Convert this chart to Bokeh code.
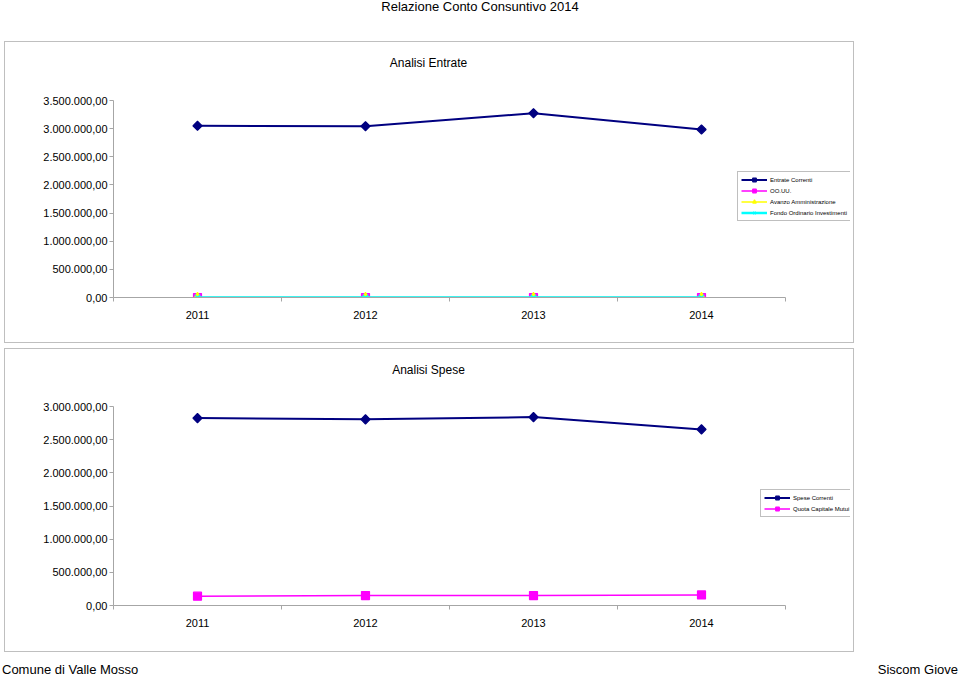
import math
from bokeh.plotting import figure
from bokeh.models import Legend, LegendItem, Label, FixedTicker, Range1d, Div
from bokeh.layouts import column
from bokeh.embed import file_html
from bokeh.resources import INLINE

# ---------------- data ----------------
years = ["2011", "2012", "2013", "2014"]

entrate_correnti = [3050000, 3044000, 3275000, 2985000]
oo_uu = [0, 0, 0, 0]
avanzo_amministrazione = [0, 0, 0, 0]
fondo_ordinario_investimenti = [0, 0, 0, 0]

spese_correnti = [2825000, 2806000, 2840000, 2655000]
quota_capitale_mutui = [140000, 150000, 150000, 160000]

entrate_ticks = [0, 500000, 1000000, 1500000, 2000000, 2500000, 3000000, 3500000]
entrate_tick_labels = ["0,00", "500.000,00", "1.000.000,00", "1.500.000,00",
                       "2.000.000,00", "2.500.000,00", "3.000.000,00", "3.500.000,00"]
spese_ticks = [0, 500000, 1000000, 1500000, 2000000, 2500000, 3000000]
spese_tick_labels = ["0,00", "500.000,00", "1.000.000,00", "1.500.000,00",
                     "2.000.000,00", "2.500.000,00", "3.000.000,00"]

# ---------------- layout constants ----------------
FONT = "Liberation Sans"
PAGE_W = 960
CW = 850            # chart width incl. grey border
FRAME_L = 108       # y axis position inside the chart canvas
FRAME_R_PAD = 5
AXIS_R = 780        # where the x axis ends (canvas px)
AXIS_GRAY = "#a6a6a6"
BOX_STYLE = {"border": "1px solid #bfbfbf"}

xpos = [i + 0.5 for i in range(len(years))]


def make_chart(height, frame_bottom, axis_top, ymax, ticks, tick_labels, margin):
    n = len(years)
    frame_r = CW - FRAME_R_PAD
    x_end = n * (frame_r - FRAME_L) / (AXIS_R - FRAME_L)
    y_end = ymax * frame_bottom / (frame_bottom - axis_top)
    p = figure(width=CW, height=height,
               x_range=Range1d(0, x_end), y_range=Range1d(0, y_end),
               output_backend="svg", toolbar_location=None,
               min_border_left=FRAME_L, min_border_right=FRAME_R_PAD,
               min_border_top=0, min_border_bottom=height - frame_bottom,
               styles=BOX_STYLE, margin=margin)
    p.outline_line_color = None
    p.grid.visible = False
    p.background_fill_color = "white"
    p.border_fill_color = "white"

    xa = p.xaxis[0]
    xa.bounds = (0, n)
    xa.ticker = FixedTicker(ticks=xpos, minor_ticks=list(range(n + 1)))
    xa.major_label_overrides = {x: y for x, y in zip(xpos, years)}
    xa.major_tick_out = 0
    xa.major_tick_in = 0
    xa.major_tick_line_color = None
    xa.minor_tick_out = 4
    xa.minor_tick_in = 0
    xa.minor_tick_line_color = AXIS_GRAY
    xa.axis_line_color = AXIS_GRAY
    xa.major_label_standoff = 9
    xa.major_label_text_font = FONT
    xa.major_label_text_font_size = "11px"
    xa.major_label_text_color = "black"

    ya = p.yaxis[0]
    ya.bounds = (0, ymax)
    ya.ticker = FixedTicker(ticks=ticks, minor_ticks=[])
    ya.major_label_overrides = {t: l for t, l in zip(ticks, tick_labels)}
    ya.major_tick_out = 4
    ya.major_tick_in = 0
    ya.major_tick_line_color = AXIS_GRAY
    ya.axis_line_color = AXIS_GRAY
    ya.major_label_standoff = 2
    ya.major_label_text_font = FONT
    ya.major_label_text_font_size = "11px"
    ya.major_label_text_color = "black"
    return p


def add_text(p, text, x, y, size="12px"):
    p.add_layout(Label(x=x, y=y, x_units="screen", y_units="screen",
                       text=text, text_align="center", text_baseline="middle",
                       text_font=FONT, text_font_size=size, text_color="black"))


def style_legend(leg):
    leg.label_text_font = FONT
    leg.label_text_font_size = "6px"
    leg.label_text_color = "black"
    leg.label_height = 9
    leg.glyph_height = 9
    leg.glyph_width = 26
    leg.label_standoff = 3
    leg.spacing = 2
    leg.padding = 3
    leg.margin = 0
    leg.border_line_color = "#7f7f7f"
    leg.border_line_width = 1
    leg.background_fill_color = "white"
    leg.background_fill_alpha = 1


def add_series(p, series):
    items = []
    for name, vals, col, mk, sz, ang, lw in series:
        ln = p.line(xpos, vals, line_color=col, line_width=lw)
        sc = p.scatter(xpos, vals, marker=mk, size=sz, angle=ang,
                       fill_color=col, line_color=col, line_width=1.2)
        items.append(LegendItem(label=name, renderers=[ln, sc]))
    return items


def text_div(height, spans):
    inner = "".join(
        f'<span style="position:absolute;{pos};top:{top}px;line-height:14px;'
        f'white-space:nowrap">{txt}</span>'
        for txt, pos, top in spans)
    html = (f'<div style="position:relative;width:{PAGE_W}px;height:{height}px;'
            f'font-family:\'{FONT}\';font-size:13px;color:#000">{inner}</div>')
    return Div(text=html, width=PAGE_W, height=height, margin=0)


# ---------------- header ----------------
header = text_div(41, [("Relazione Conto Consuntivo 2014",
                        f"left:0;width:{PAGE_W}px;text-align:center", 0)])

# ---------------- chart 1: Analisi Entrate ----------------
H1, B1, T1 = 302, 255, 58
p1 = make_chart(H1, B1, T1, entrate_ticks[-1], entrate_ticks, entrate_tick_labels,
                margin=(0, 0, 0, 4))
add_text(p1, "Analisi Entrate", 423 - FRAME_L, B1 - 20, size="12px")
series1 = [
    ("Entrate Correnti", entrate_correnti, "#000080", "square", 6.5, math.pi / 4, 2),
    ("OO.UU.", oo_uu, "#ff00ff", "square", 8, 0, 1.5),
    ("Avanzo Amministrazione", avanzo_amministrazione, "#ffff00", "triangle", 9, 0, 1.5),
    ("Fondo Ordinario Investimenti", fondo_ordinario_investimenti, "#00ffff", "x", 8, 0, 2.5),
]
leg1 = Legend(items=add_series(p1, series1), location=(732 - FRAME_L, B1 - 179))
style_legend(leg1)
p1.add_layout(leg1, "center")

# ---------------- chart 2: Analisi Spese ----------------
H2, B2, T2 = 304, 256, 57
p2 = make_chart(H2, B2, T2, spese_ticks[-1], spese_ticks, spese_tick_labels,
                margin=(5, 0, 0, 4))
add_text(p2, "Analisi Spese", 423 - FRAME_L, B2 - 20, size="12px")
series2 = [
    ("Spese Correnti", spese_correnti, "#000080", "square", 6.5, math.pi / 4, 2),
    ("Quota Capitale Mutui", quota_capitale_mutui, "#ff00ff", "square", 8, 0, 1.5),
]
leg2 = Legend(items=add_series(p2, series2), location=(755 - FRAME_L, B2 - 168))
style_legend(leg2)
p2.add_layout(leg2, "center")

# ---------------- footer ----------------
footer = text_div(24, [("Comune di Valle Mosso", "left:2px", 11),
                       ("Siscom Giove", "right:2px", 11)])

layout = column(header, p1, p2, footer, spacing=0)
open("out.html", "w").write(file_html(layout, INLINE))
